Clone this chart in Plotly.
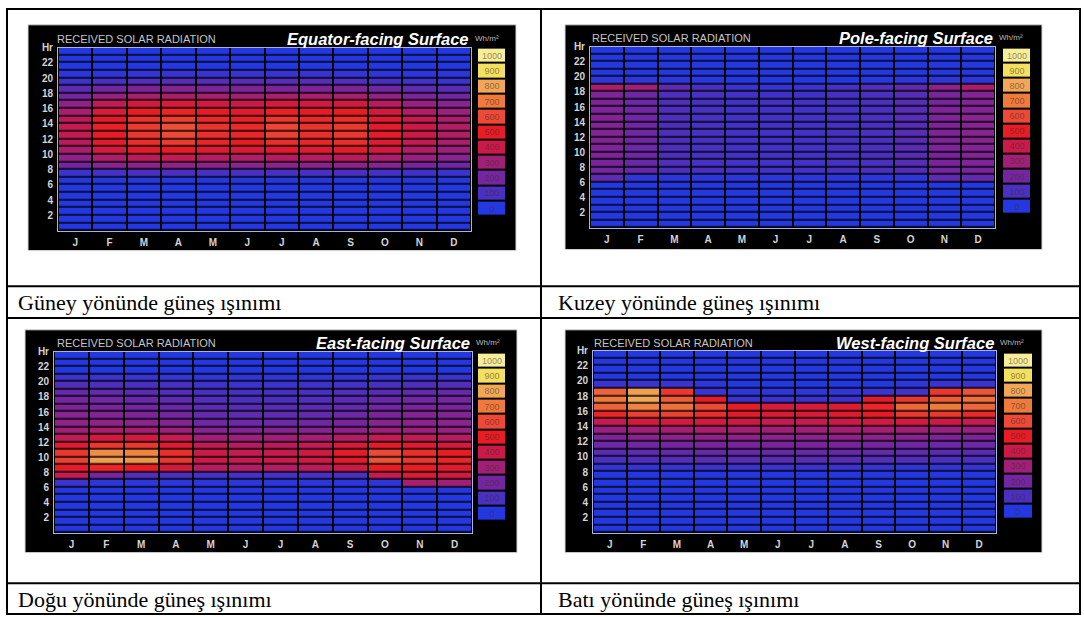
import plotly.graph_objects as go

W, H = 1084, 617

months = ["J", "F", "M", "A", "M", "J", "J", "A", "S", "O", "N", "D"]
month_index = list(range(12))
hour_edges = list(range(25))
hour_ticks = [2, 4, 6, 8, 10, 12, 14, 16, 18, 20, 22, 24]
hour_labels = ["2", "4", "6", "8", "10", "12", "14", "16", "18", "20", "22", "Hr"]
legend_levels = [0, 100, 200, 300, 400, 500, 600, 700, 800, 900, 1000]
legend_labels = ["0", "100", "200", "300", "400", "500", "600", "700", "800", "900", "1000"]

# received solar radiation, Wh/m2 ; rows = hour 0..23, columns = months J..D
equator_wh = [
    [0, 0, 0, 0, 0, 0, 0, 0, 0, 0, 0, 0],
    [0, 0, 0, 0, 0, 0, 0, 0, 0, 0, 0, 0],
    [0, 0, 0, 0, 0, 0, 0, 0, 0, 0, 0, 0],
    [0, 0, 0, 0, 0, 0, 0, 0, 0, 0, 0, 0],
    [0, 0, 0, 0, 0, 0, 0, 0, 0, 0, 0, 0],
    [0, 0, 0, 0, 0, 0, 0, 0, 0, 0, 0, 0],
    [0, 0, 0, 0, 0, 0, 0, 0, 0, 0, 0, 0],
    [60, 80, 100, 100, 90, 90, 90, 90, 100, 80, 70, 60],
    [200, 240, 260, 260, 250, 240, 250, 250, 260, 240, 210, 190],
    [260, 330, 360, 380, 350, 340, 350, 350, 360, 320, 280, 240],
    [320, 430, 480, 500, 460, 450, 470, 460, 480, 420, 340, 290],
    [360, 480, 540, 570, 520, 500, 540, 520, 540, 460, 380, 320],
    [380, 500, 560, 600, 540, 520, 580, 540, 560, 480, 400, 340],
    [380, 510, 570, 610, 550, 530, 590, 550, 560, 480, 400, 340],
    [360, 490, 550, 580, 530, 510, 560, 530, 540, 460, 380, 320],
    [320, 440, 500, 520, 490, 470, 510, 490, 500, 420, 340, 290],
    [260, 370, 420, 440, 420, 400, 430, 420, 420, 350, 280, 240],
    [200, 280, 320, 330, 320, 310, 320, 320, 320, 270, 220, 190],
    [140, 190, 220, 230, 220, 220, 220, 220, 220, 190, 150, 130],
    [70, 100, 120, 130, 130, 130, 130, 130, 120, 100, 80, 60],
    [20, 30, 40, 50, 50, 50, 50, 50, 40, 30, 20, 20],
    [0, 0, 0, 0, 0, 0, 0, 0, 0, 0, 0, 0],
    [0, 0, 0, 0, 0, 0, 0, 0, 0, 0, 0, 0],
    [0, 0, 0, 0, 0, 0, 0, 0, 0, 0, 0, 0],
]

pole_wh = [
    [0, 0, 0, 0, 0, 0, 0, 0, 0, 0, 0, 0],
    [0, 0, 0, 0, 0, 0, 0, 0, 0, 0, 0, 0],
    [0, 0, 0, 0, 0, 0, 0, 0, 0, 0, 0, 0],
    [0, 0, 0, 0, 0, 0, 0, 0, 0, 0, 0, 0],
    [0, 0, 0, 0, 0, 0, 0, 0, 0, 0, 0, 0],
    [0, 0, 0, 0, 0, 0, 0, 0, 0, 0, 0, 0],
    [150, 30, 20, 20, 20, 20, 20, 20, 20, 30, 150, 160],
    [200, 170, 100, 90, 80, 80, 80, 90, 100, 120, 200, 210],
    [210, 170, 110, 90, 80, 80, 80, 90, 100, 130, 210, 220],
    [220, 180, 110, 90, 80, 80, 80, 90, 100, 130, 210, 230],
    [220, 180, 110, 90, 80, 80, 80, 90, 100, 130, 220, 230],
    [230, 190, 110, 90, 80, 80, 80, 90, 100, 130, 220, 240],
    [230, 190, 110, 90, 80, 80, 80, 90, 100, 130, 220, 240],
    [230, 190, 110, 90, 80, 80, 80, 90, 100, 130, 220, 240],
    [230, 190, 110, 90, 80, 80, 80, 90, 100, 130, 220, 240],
    [220, 190, 110, 90, 80, 80, 80, 90, 100, 130, 220, 230],
    [220, 180, 110, 90, 80, 80, 80, 90, 100, 130, 210, 230],
    [220, 180, 110, 90, 80, 70, 70, 90, 100, 130, 210, 230],
    [330, 300, 150, 100, 60, 50, 60, 90, 120, 160, 260, 330],
    [30, 30, 20, 10, 0, 0, 0, 0, 10, 20, 30, 30],
    [0, 0, 0, 0, 0, 0, 0, 0, 0, 0, 0, 0],
    [0, 0, 0, 0, 0, 0, 0, 0, 0, 0, 0, 0],
    [0, 0, 0, 0, 0, 0, 0, 0, 0, 0, 0, 0],
    [0, 0, 0, 0, 0, 0, 0, 0, 0, 0, 0, 0],
]

east_wh = [
    [0, 0, 0, 0, 0, 0, 0, 0, 0, 0, 0, 0],
    [0, 0, 0, 0, 0, 0, 0, 0, 0, 0, 0, 0],
    [0, 0, 0, 0, 0, 0, 0, 0, 0, 0, 0, 0],
    [0, 0, 0, 0, 0, 0, 0, 0, 0, 0, 0, 0],
    [0, 0, 0, 0, 0, 0, 0, 0, 0, 0, 0, 0],
    [0, 0, 0, 0, 0, 0, 0, 0, 0, 0, 0, 0],
    [60, 30, 20, 20, 20, 20, 20, 20, 20, 30, 320, 300],
    [380, 200, 120, 100, 80, 80, 80, 90, 100, 380, 450, 420],
    [480, 520, 500, 420, 350, 340, 340, 360, 400, 500, 500, 470],
    [580, 780, 760, 560, 400, 380, 390, 410, 480, 620, 560, 520],
    [560, 740, 720, 540, 400, 380, 390, 410, 480, 600, 540, 500],
    [460, 560, 560, 460, 370, 350, 360, 380, 440, 480, 460, 430],
    [370, 420, 420, 380, 300, 290, 300, 310, 340, 380, 370, 350],
    [300, 320, 310, 290, 240, 230, 240, 240, 260, 290, 290, 280],
    [260, 260, 250, 230, 190, 180, 180, 190, 210, 240, 250, 250],
    [240, 230, 220, 200, 160, 150, 150, 160, 180, 210, 230, 230],
    [220, 210, 190, 170, 140, 130, 130, 140, 160, 190, 210, 210],
    [200, 190, 170, 150, 120, 110, 110, 120, 140, 170, 190, 200],
    [170, 160, 140, 120, 100, 90, 90, 100, 120, 140, 160, 170],
    [120, 110, 100, 90, 70, 60, 60, 70, 80, 100, 110, 120],
    [60, 60, 50, 40, 30, 30, 30, 30, 40, 50, 60, 60],
    [0, 0, 0, 0, 0, 0, 0, 0, 0, 0, 0, 0],
    [0, 0, 0, 0, 0, 0, 0, 0, 0, 0, 0, 0],
    [0, 0, 0, 0, 0, 0, 0, 0, 0, 0, 0, 0],
]

west_wh = [
    [0, 0, 0, 0, 0, 0, 0, 0, 0, 0, 0, 0],
    [0, 0, 0, 0, 0, 0, 0, 0, 0, 0, 0, 0],
    [0, 0, 0, 0, 0, 0, 0, 0, 0, 0, 0, 0],
    [0, 0, 0, 0, 0, 0, 0, 0, 0, 0, 0, 0],
    [0, 0, 0, 0, 0, 0, 0, 0, 0, 0, 0, 0],
    [0, 0, 0, 0, 0, 0, 0, 0, 0, 0, 0, 0],
    [0, 0, 0, 0, 0, 0, 0, 0, 0, 0, 0, 0],
    [0, 0, 0, 0, 0, 0, 0, 0, 0, 0, 0, 0],
    [40, 40, 50, 60, 60, 60, 60, 60, 50, 40, 40, 40],
    [100, 110, 120, 130, 130, 130, 130, 130, 120, 110, 100, 100],
    [140, 150, 160, 170, 170, 170, 170, 170, 160, 150, 140, 140],
    [180, 190, 200, 210, 210, 210, 210, 210, 200, 190, 180, 180],
    [220, 240, 250, 260, 260, 250, 250, 260, 250, 240, 220, 220],
    [280, 300, 310, 320, 310, 300, 300, 310, 310, 300, 280, 280],
    [380, 420, 420, 420, 400, 380, 380, 400, 410, 420, 400, 380],
    [520, 580, 580, 540, 480, 450, 450, 470, 500, 560, 560, 530],
    [650, 720, 680, 600, 500, 440, 440, 460, 520, 660, 700, 660],
    [700, 800, 640, 500, 60, 60, 60, 60, 480, 560, 640, 680],
    [650, 780, 560, 60, 30, 30, 30, 40, 60, 80, 560, 620],
    [60, 60, 50, 20, 0, 0, 0, 0, 0, 20, 50, 60],
    [0, 0, 0, 0, 0, 0, 0, 0, 0, 0, 0, 0],
    [0, 0, 0, 0, 0, 0, 0, 0, 0, 0, 0, 0],
    [0, 0, 0, 0, 0, 0, 0, 0, 0, 0, 0, 0],
    [0, 0, 0, 0, 0, 0, 0, 0, 0, 0, 0, 0],
]

panel_titles = ["Equator-facing Surface", "Pole-facing Surface", "East-facing Surface", "West-facing Surface"]
captions = ["Güney yönünde güneş ışınımı", "Kuzey yönünde güneş ışınımı",
            "Doğu yönünde güneş ışınımı", "Batı yönünde güneş ışınımı"]
series = [equator_wh, pole_wh, east_wh, west_wh]

solar_scale = [
    [0.0, "#2438e2"], [0.1, "#4a30c0"], [0.2, "#7426a0"], [0.3, "#a02078"],
    [0.4, "#cc1a48"], [0.5, "#e81c24"], [0.6, "#ec4a36"], [0.7, "#ee7a3c"],
    [0.8, "#f0a858"], [0.9, "#f2e060"], [1.0, "#f6ee98"],
]

# ---- layout geometry (pixels) ----
geom = [
    dict(panel=(28, 19, 516, 247), plot=(58, 42, 471, 227), cbar=(478, 42, 505, 212), ty=33,
         recv_x=55, cap=(16, 299)),
    dict(panel=(565, 19, 1042, 246), plot=(590, 41, 995, 224), cbar=(1003, 42, 1030, 210), ty=32,
         recv_x=590, cap=(556, 299)),
    dict(panel=(25, 327, 517, 552), plot=(54, 349, 472, 532), cbar=(478, 350, 505, 520), ty=340,
         recv_x=55, cap=(16, 599)),
    dict(panel=(565, 327, 1042, 552), plot=(593, 348, 996, 532), cbar=(1004, 350, 1032, 518), ty=340,
         recv_x=592, cap=(556, 599)),
]


def px(x):
    return x / W


def py(y):
    return 1 - y / H


fig = go.Figure()
layout = dict(
    width=W, height=H, margin=dict(l=0, r=0, t=0, b=0),
    paper_bgcolor="white", plot_bgcolor="black", showlegend=False,
    font=dict(family="Liberation Sans, Arial, sans-serif"),
)
shapes = []
annotations = []

tickfont = dict(family="Liberation Sans Narrow, Liberation Sans, Arial", size=10, color="#d4d4d4", weight="bold")

for i, (g, z) in enumerate(zip(geom, series)):
    n1 = 2 * i + 1
    n2 = 2 * i + 2
    x0, y0, x1, y1 = g["plot"]
    fig.add_trace(go.Heatmap(
        z=z, x=month_index, y=hour_edges, zmin=0, zmax=1000, colorscale=solar_scale,
        showscale=False, xgap=2, ygap=1.5, xaxis=f"x{n1}", yaxis=f"y{n1}",
        hovertemplate="%{z} Wh/m²<extra></extra>",
    ))
    layout[f"xaxis{n1}"] = dict(
        domain=[px(x0), px(x1)], anchor=f"y{n1}", range=[-0.5, 11.5],
        tickmode="array", tickvals=month_index, ticktext=months, ticks="",
        showgrid=False, zeroline=False, tickfont=tickfont, ticklabelstandoff=2,
        showline=True, mirror=True, linecolor="#a8b4e0", linewidth=1, fixedrange=True,
    )
    layout[f"yaxis{n1}"] = dict(
        domain=[py(y1), py(y0)], anchor=f"x{n1}", range=[0, 24],
        tickmode="array", tickvals=hour_ticks, ticktext=hour_labels, ticks="",
        showgrid=False, zeroline=False, tickfont=tickfont, ticklabelstandoff=2,
        showline=True, mirror=True, linecolor="#a8b4e0", linewidth=1, fixedrange=True,
    )
    # legend column
    cx0, cy0, cx1, cy1 = g["cbar"]
    fig.add_trace(go.Heatmap(
        z=[[v] for v in legend_levels], x=[0], y=list(range(11)),
        text=[[t] for t in legend_labels], texttemplate="%{text}",
        textfont=dict(size=9, color="rgba(70,40,40,0.55)", family="Liberation Sans Narrow, Arial"),
        zmin=0, zmax=1000, colorscale=solar_scale, showscale=False, ygap=2,
        xaxis=f"x{n2}", yaxis=f"y{n2}", hoverinfo="skip",
    ))
    layout[f"xaxis{n2}"] = dict(domain=[px(cx0), px(cx1)], anchor=f"y{n2}", visible=False, fixedrange=True)
    layout[f"yaxis{n2}"] = dict(domain=[py(cy1), py(cy0)], anchor=f"x{n2}", visible=False,
                                range=[-0.5, 10.5], fixedrange=True)

    # black panel
    bx0, by0, bx1, by1 = g["panel"]
    shapes.append(dict(type="rect", xref="paper", yref="paper", x0=px(bx0), x1=px(bx1),
                       y0=py(by1), y1=py(by0), fillcolor="black", line=dict(color="#d8d8d8", width=1),
                       layer="below"))
    annotations.append(dict(text="RECEIVED SOLAR RADIATION", x=px(g["recv_x"]), y=py(g["ty"]),
                            xref="paper", yref="paper", xanchor="left", yanchor="middle", showarrow=False,
                            font=dict(size=11, color="#c4c4c4", family="Liberation Sans, Arial")))
    annotations.append(dict(text=panel_titles[i], x=px(x1), y=py(g["ty"]),
                            xref="paper", yref="paper", xanchor="right", yanchor="middle", showarrow=False,
                            font=dict(size=16.5, color="white", family="Liberation Sans, Arial",
                                      weight="bold", style="italic")))
    annotations.append(dict(text="Wh/m²", x=px(x1 + 2), y=py(g["ty"]),
                            xref="paper", yref="paper", xanchor="left", yanchor="middle", showarrow=False,
                            font=dict(size=8, color="#bbbbbb", family="Liberation Sans Narrow, Arial")))
    cxp, cyp = g["cap"]
    annotations.append(dict(text=captions[i], x=px(cxp), y=py(cyp), xref="paper", yref="paper",
                            xanchor="left", yanchor="middle", showarrow=False,
                            font=dict(size=22, color="black", family="Liberation Serif, Times New Roman, serif")))

# table rules
line = dict(color="black", width=2)
shapes.append(dict(type="rect", xref="paper", yref="paper", x0=px(7), x1=px(1080), y0=py(614), y1=py(3), line=line))
shapes.append(dict(type="line", xref="paper", yref="paper", x0=px(541), x1=px(541), y0=py(614), y1=py(3), line=line))
for yy in (283, 315, 583):
    shapes.append(dict(type="line", xref="paper", yref="paper", x0=px(7), x1=px(1080), y0=py(yy), y1=py(yy), line=line))

layout["shapes"] = shapes
layout["annotations"] = annotations
fig.update_layout(**layout)

fig.write_html("out.html", config={"displayModeBar": False},
               post_script="document.body.style.margin='0px';")
